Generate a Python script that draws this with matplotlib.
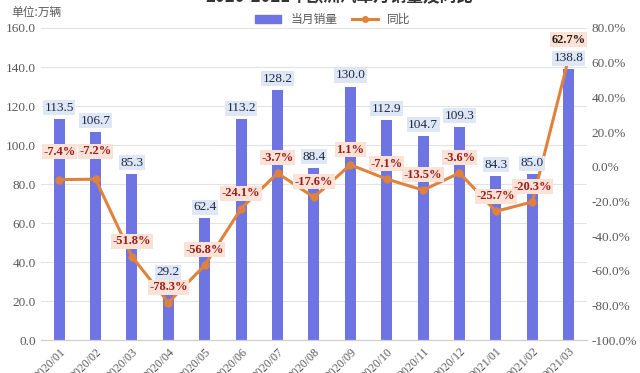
import matplotlib
matplotlib.use('Agg')
import matplotlib.pyplot as plt
from matplotlib.lines import Line2D
from matplotlib.patches import Patch

plt.rcParams['font.family'] = ['Liberation Serif', 'Noto Sans CJK SC']

months = ['2020/01', '2020/02', '2020/03', '2020/04', '2020/05', '2020/06', '2020/07',
          '2020/08', '2020/09', '2020/10', '2020/11', '2020/12', '2021/01', '2021/02', '2021/03']
sales = [113.5, 106.7, 85.3, 29.2, 62.4, 113.2, 128.2, 88.4, 130.0, 112.9, 104.7, 109.3, 84.3, 85.0, 138.8]
yoy = [-7.4, -7.2, -51.8, -78.3, -56.8, -24.1, -3.7, -17.6, 1.1, -7.1, -13.5, -3.6, -25.7, -20.3, 62.7]

BAR = '#6e75e3'
LINE = '#e0823c'

fig = plt.figure(figsize=(6.4, 3.73), dpi=100)
ax = fig.add_axes([0.064, 0.088, 0.853, 0.837])
ax2 = ax.twinx()

x = list(range(len(months)))
ax.bar(x, sales, width=0.3, color=BAR, zorder=2)
ax.set_xlim(-0.5, len(months) - 0.5)
ax.set_ylim(0, 160)
ax.set_yticks(range(0, 161, 20))
ax.set_yticklabels([f'{v:.1f}' for v in range(0, 161, 20)])
ax.grid(axis='y', color='#e3e3e3', linewidth=0.8, zorder=0)
ax.set_axisbelow(True)

ax2.plot(x, yoy, color=LINE, linewidth=2.2, marker='o', markersize=5, zorder=3)
ax2.set_ylim(-100, 80)
ax2.set_yticks(range(-100, 81, 20))
ax2.set_yticklabels([f'{v:.1f}%' for v in range(-100, 81, 20)])

for a in (ax, ax2):
    for s in ('top', 'left', 'right'):
        a.spines[s].set_visible(False)
    a.spines['bottom'].set_color('#d0d0d0')
    a.tick_params(length=0, labelsize=9.5, colors='#595959')

ax.set_xticks(x)
ax.set_xticklabels(months, rotation=45, ha='right', rotation_mode='anchor', fontsize=8.5)
ax.tick_params(axis='x', pad=4)

# bar labels drawn on the top axes so they sit above the line
for i, v in enumerate(sales):
    ax2.annotate(f'{v:.1f}', (i, v), xycoords=ax.transData, xytext=(0, 8), textcoords='offset points',
                 ha='center', va='center', fontsize=9.5, color='#1c2a48', zorder=5,
                 bbox=dict(boxstyle='square,pad=0.12', fc='#dfe7f5', ec='none'))

for i, v in enumerate(yoy):
    dy = 20 if i < 2 else 11
    col = '#9b1c1c'
    if i == len(yoy) - 1:
        dy = 13
        col = '#2a1a12'
    ax2.annotate(f'{v:.1f}%', (i, v), xytext=(0, dy), textcoords='offset points',
                 ha='center', va='center', fontsize=9, fontweight='bold', color=col, zorder=6,
                 bbox=dict(boxstyle='square,pad=0.12', fc='#fbe2d6', ec='none'))

handles = [Patch(color=BAR), Line2D([], [], color=LINE, linewidth=2.2, marker='o', markersize=4)]
fig.legend(handles, ['当月销量', '同比'], loc='center', bbox_to_anchor=(0.52, 0.947), ncol=2,
           frameon=False, handlelength=2.2, handleheight=0.6, columnspacing=1.2,
           labelcolor='#595959', prop={'family': ['Noto Sans CJK SC'], 'size': 8.5})

fig.text(0.018, 0.967, '单位:万辆', fontsize=8.5, color='#595959', va='center',
         family=['Noto Sans CJK SC'])
fig.text(0.53, 1.008, '2020-2021年欧洲汽车月销量及同比', fontsize=12, fontweight='bold',
         ha='center', va='center', color='#333333', family=['Noto Sans CJK SC'])

fig.savefig('out.png', dpi=100)
